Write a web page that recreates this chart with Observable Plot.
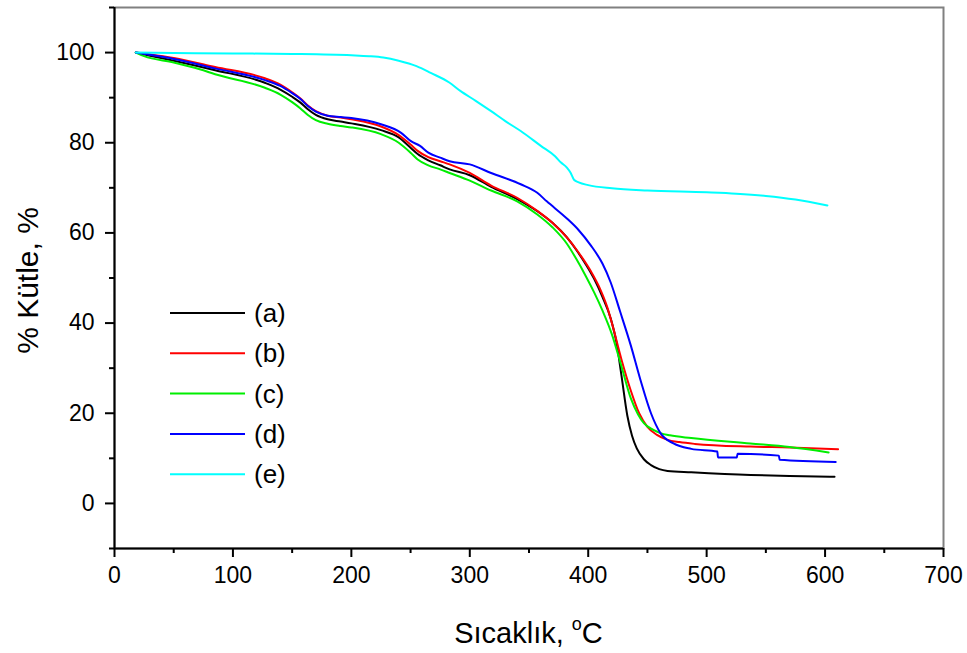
<!DOCTYPE html>
<html>
<head>
<meta charset="utf-8">
<script src="https://cdn.jsdelivr.net/npm/d3@7"></script>
<script src="https://cdn.jsdelivr.net/npm/@observablehq/plot@0.6"></script>
<style>
  html, body { margin: 0; padding: 0; background: #fff; }
  #chart { position: relative; width: 967px; height: 653px; }
</style>
</head>
<body>
<div id="chart"></div>
<script>
// ---- Data ----
const seriesNames = ["(a)", "(b)", "(c)", "(d)", "(e)"];
const seriesColors = ["#000000", "#ff0000", "#00ee00", "#0000ff", "#00ffff"];

const aT = [18, 30, 50, 85, 127, 140, 150, 157, 163, 170, 180, 191, 200, 225, 240, 250, 256, 265, 275, 283, 300, 318, 340, 357, 370, 382, 390, 398, 405, 412, 419, 424, 428, 433, 437, 441, 447, 453, 460, 467, 487, 537, 570, 608];
const aM = [100, 99.3, 98.2, 96.1, 93.3, 91.8, 90.2, 88.9, 87.5, 86.2, 85.2, 84.7, 84.3, 82.8, 81.2, 78.9, 77.5, 76.1, 75.0, 74.1, 72.8, 70.2, 67.5, 64.8, 62.2, 59.0, 56.2, 53.0, 49.8, 45.8, 41.0, 35.5, 28.5, 19.5, 15.0, 12.2, 9.8, 8.5, 7.6, 7.2, 6.9, 6.3, 6.1, 5.9];

const bT = [18, 30, 50, 85, 127, 140, 150, 157, 163, 170, 180, 191, 200, 225, 240, 250, 256, 265, 275, 283, 300, 318, 340, 357, 370, 382, 392, 402, 410, 416, 420, 428, 436, 443, 450, 458, 467, 477, 490, 537, 570, 611];
const bM = [100, 99.6, 98.8, 96.8, 94.3, 92.9, 91.2, 89.8, 88.3, 87.0, 86.0, 85.6, 85.2, 83.6, 81.7, 79.6, 78.2, 76.8, 75.9, 75.2, 73.3, 70.5, 67.8, 64.9, 62.2, 59.0, 55.6, 51.6, 47.6, 43.6, 40.0, 32.0, 25.0, 20.0, 17.0, 15.2, 14.1, 13.6, 13.2, 12.6, 12.4, 12.0];

const cT = [18, 25, 50, 72, 85, 127, 140, 150, 157, 163, 170, 180, 191, 200, 225, 240, 250, 256, 265, 275, 283, 300, 318, 340, 357, 370, 382, 390, 398, 405, 412, 420, 428, 436, 442, 447, 455, 461, 469, 487, 537, 570, 603];
const cM = [100, 99.2, 97.8, 96.3, 95.2, 92.2, 90.7, 89.0, 87.6, 86.2, 85.0, 84.2, 83.7, 83.4, 81.9, 80.0, 77.8, 76.3, 75.0, 74.1, 73.3, 71.6, 69.4, 67.0, 64.1, 61.2, 57.6, 54.2, 50.4, 46.8, 42.8, 37.5, 30.5, 23.3, 19.8, 17.8, 16.3, 15.6, 15.1, 14.5, 13.3, 12.5, 11.3];

const dT = [18, 30, 50, 85, 127, 140, 150, 157, 163, 170, 180, 191, 200, 225, 242, 250, 258, 265, 275, 283, 300, 318, 343, 357, 365, 382, 392, 402, 412, 419, 427, 436, 444, 453, 461, 472, 487, 509, 509.6, 525.5, 526.1, 561, 561.6, 609];
const dM = [100, 99.5, 98.6, 96.5, 93.9, 92.6, 91.0, 89.7, 88.2, 86.9, 86.0, 85.7, 85.5, 84.1, 82.2, 80.4, 79.3, 77.8, 76.7, 75.9, 75.2, 73.3, 70.8, 68.9, 67.0, 63.2, 60.6, 57.3, 53.2, 49.0, 42.5, 35.0, 27.5, 20.0, 15.6, 13.3, 12.1, 11.5, 10.2, 10.2, 11.0, 10.6, 9.7, 9.2];

const eT = [18, 50, 100, 150, 200, 215, 227, 240, 255, 267, 283, 292, 305, 318, 330, 343, 360, 372, 377, 382, 385, 388, 392, 400, 420, 450, 500, 525, 550, 575, 602];
const eM = [100, 99.9, 99.8, 99.7, 99.4, 99.2, 98.9, 98.2, 97.0, 95.5, 93.3, 91.5, 89.3, 87.0, 84.8, 82.6, 79.3, 77.0, 75.6, 74.5, 73.4, 71.8, 71.2, 70.6, 69.9, 69.4, 69.0, 68.7, 68.2, 67.4, 66.1];

const xMajorTicks = [0, 100, 200, 300, 400, 500, 600, 700];
const xMinorTicks = [50, 150, 250, 350, 450, 550, 650];
const yMajorTicks = [0, 20, 40, 60, 80, 100];
const yMinorTicks = [-10, 10, 30, 50, 70, 90, 110];

const xLabel = "Sıcaklık, ";
const xLabelSup = "o";
const xLabelUnit = "C";
const yLabel = "% Kütle, %";

// ---- Build table ----
const seriesT = [aT, bT, cT, dT, eT];
const seriesM = [aM, bM, cM, dM, eM];
const rows = seriesNames.flatMap((name, i) =>
  seriesT[i].map((t, j) => ({series: name, T: t, M: seriesM[i][j]}))
);

const W = 967, H = 653;
const mL = 114, mR = 24, mT = 7, mB = 105;
const font = "'Liberation Sans', Arial, sans-serif";

const chart = Plot.plot({
  width: W,
  height: H,
  marginLeft: mL,
  marginRight: mR,
  marginTop: mT,
  marginBottom: mB,
  style: {fontFamily: font, fontSize: "23px", background: "#fff", color: "#000"},
  x: {domain: [0, 700]},
  y: {domain: [-10, 110]},
  color: {domain: seriesNames, range: seriesColors},
  marks: [
    Plot.frame({stroke: "#808080", strokeWidth: 2}),
    Plot.line(rows, {x: "T", y: "M", z: "series", stroke: "series", strokeWidth: 2, curve: "monotone-x"}),
    Plot.ruleX([0], {stroke: "#000", strokeWidth: 2}),
    Plot.ruleY([-10], {stroke: "#000", strokeWidth: 2}),
    Plot.axisX({ticks: xMajorTicks, tickSize: 9, tickPadding: 9, tickFormat: d => String(d), label: null, strokeWidth: 2, fontSize: 23}),
    Plot.axisX({ticks: xMinorTicks, tickSize: 5, tickFormat: () => "", label: null, strokeWidth: 2}),
    Plot.axisY({ticks: yMajorTicks, tickSize: 9, tickPadding: 11, tickFormat: d => String(d), label: null, strokeWidth: 2, fontSize: 23}),
    Plot.axisY({ticks: yMinorTicks, tickSize: 5, tickFormat: () => "", label: null, strokeWidth: 2})
  ]
});

document.getElementById("chart").appendChild(chart);

// ---- Axis titles and legend ----
const svg = d3.select(chart);

const xt = svg.append("text")
  .attr("x", (mL + (W - mR)) / 2)
  .attr("y", 643)
  .attr("text-anchor", "middle")
  .attr("font-family", font)
  .attr("font-size", 29)
  .attr("fill", "#000");
xt.append("tspan").text(xLabel);
xt.append("tspan").attr("font-size", 18).attr("dy", -13).text(xLabelSup);
xt.append("tspan").attr("dy", 13).text(xLabelUnit);

svg.append("text")
  .attr("transform", `translate(38, ${(mT + (H - mB)) / 2 + 3}) rotate(-90)`)
  .attr("text-anchor", "middle")
  .attr("font-family", font)
  .attr("font-size", 30)
  .attr("fill", "#000")
  .text(yLabel);

const leg = svg.append("g");
seriesNames.forEach((name, i) => {
  const y = 313 + i * 40.3;
  leg.append("line")
    .attr("x1", 170).attr("x2", 245)
    .attr("y1", y).attr("y2", y)
    .attr("stroke", seriesColors[i]).attr("stroke-width", 2);
  leg.append("text")
    .attr("x", 254).attr("y", y + 9)
    .attr("text-anchor", "start")
    .attr("font-family", font).attr("font-size", 26)
    .attr("fill", "#000")
    .text(name);
});
</script>
</body>
</html>
